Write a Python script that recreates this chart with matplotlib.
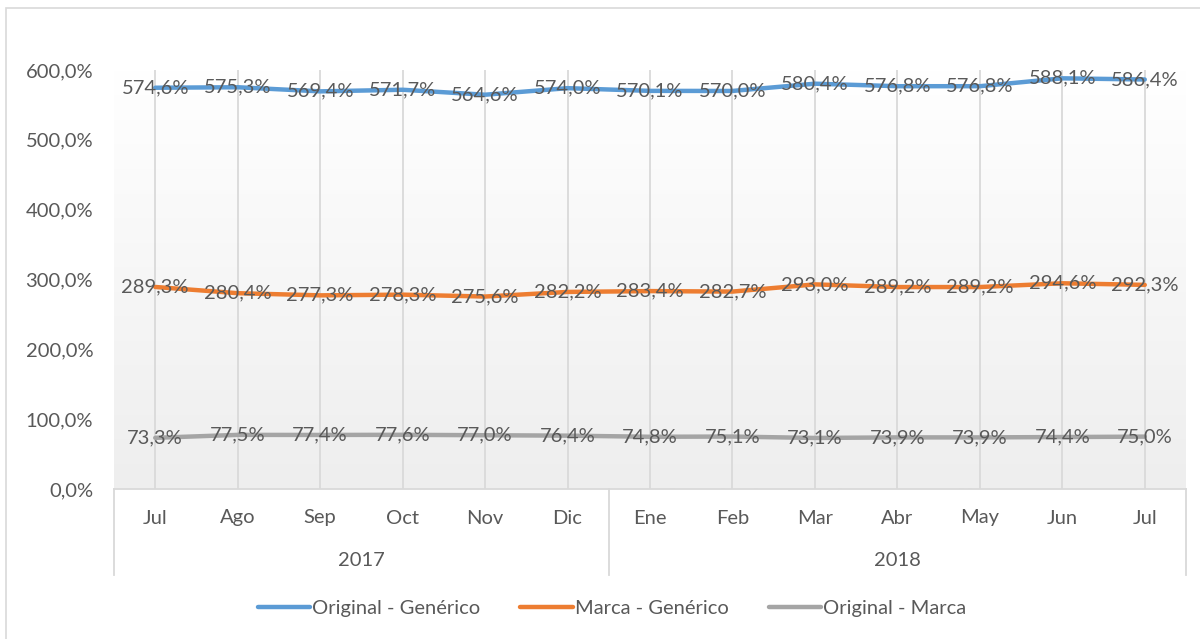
import matplotlib
matplotlib.use("Agg")
import matplotlib.pyplot as plt
import numpy as np
from matplotlib.lines import Line2D
from matplotlib.patches import Rectangle
from matplotlib.colors import LinearSegmentedColormap

months = ["Jul", "Ago", "Sep", "Oct", "Nov", "Dic", "Ene", "Feb", "Mar", "Abr", "May", "Jun", "Jul"]
years = ["2017", "2018"]
year_sizes = [6, 7]

orig_gen = [574.6, 575.3, 569.4, 571.7, 564.6, 574.0, 570.1, 570.0, 580.4, 576.8, 576.8, 588.1, 586.4]
marca_gen = [289.3, 280.4, 277.3, 278.3, 275.6, 282.2, 283.4, 282.7, 293.0, 289.2, 289.2, 294.6, 292.3]
orig_marca = [73.3, 77.5, 77.4, 77.6, 77.0, 76.4, 74.8, 75.1, 73.1, 73.9, 73.9, 74.4, 75.0]

series_names = ["Original - Genérico", "Marca - Genérico", "Original - Marca"]
series = [orig_gen, marca_gen, orig_marca]
colors = ["#5B9BD5", "#ED7D31", "#A5A5A5"]

plt.rcParams['font.family'] = ['Lato', 'DejaVu Sans']
TXT = "#595959"
GRID = "#d9d9d9"
FS = 14.5

fig = plt.figure(figsize=(12, 6.39), dpi=100)
fig.patch.set_facecolor("white")
fig.add_artist(Rectangle((6/1200, -0.2), 1.2, 1.2 - 8/639, transform=fig.transFigure,
                         fill=False, edgecolor=GRID, linewidth=1.2))

ax = fig.add_axes([114/1200, 1 - 489/639, (1186 - 114)/1200, (489 - 70)/639])
x = np.arange(len(months))
ax.set_xlim(-0.5, len(months) - 0.5)
ax.set_ylim(0, 600)

grad = np.linspace(0, 1, 256).reshape(-1, 1)
cmap = LinearSegmentedColormap.from_list("g", ["#eeeeee", "#ffffff"])
ax.imshow(grad, cmap=cmap, aspect="auto", extent=(-0.5, len(months) - 0.5, 0, 600),
          origin="lower", zorder=0)

for xi in x:
    ax.axvline(xi, color=GRID, linewidth=1.3, zorder=1)

for name, vals, c in zip(series_names, series, colors):
    ax.plot(x, vals, color=c, linewidth=3.2, solid_capstyle="round", label=name, zorder=3)
    for xi, v in zip(x, vals):
        ax.text(xi, v, f"{v:.1f}%".replace(".", ","), ha="center", va="center",
                fontsize=FS, color=TXT, zorder=4, clip_on=False)

for s in ["top", "right", "left"]:
    ax.spines[s].set_visible(False)
ax.spines["bottom"].set_color(GRID)
ax.spines["bottom"].set_linewidth(1.3)

ax.set_yticks(np.arange(0, 601, 100))
ax.set_yticklabels([f"{v:.1f}%".replace(".", ",") for v in np.arange(0, 601, 100)])
ax.tick_params(axis="y", length=0, labelsize=FS, labelcolor=TXT, pad=15)
ax.set_xticks([])

trans = ax.get_xaxis_transform()
box_bottom = -(575 - 489) / (489 - 70)
month_y = -(518 - 489) / (489 - 70)
year_y = -(560 - 489) / (489 - 70)
for xi, m in zip(x, months):
    ax.text(xi, month_y, m, transform=trans, ha="center", va="center", fontsize=FS, color=TXT)
start = -0.5
seps = [start]
for yname, n in zip(years, year_sizes):
    end = start + n
    ax.text((start + end) / 2, year_y, yname, transform=trans, ha="center", va="center",
            fontsize=FS, color=TXT)
    seps.append(end)
    start = end
for sx in seps:
    ax.add_line(Line2D([sx, sx], [0, box_bottom], transform=trans, color=GRID,
                       linewidth=1.3, clip_on=False))

fig.legend(loc="center", bbox_to_anchor=(0.51, 1 - 608/639), ncol=3, frameon=False,
           fontsize=FS, handlelength=2.6, handletextpad=0.1, columnspacing=2.0,
           labelcolor=TXT)

fig.savefig("out.png", dpi=100, facecolor="white")
